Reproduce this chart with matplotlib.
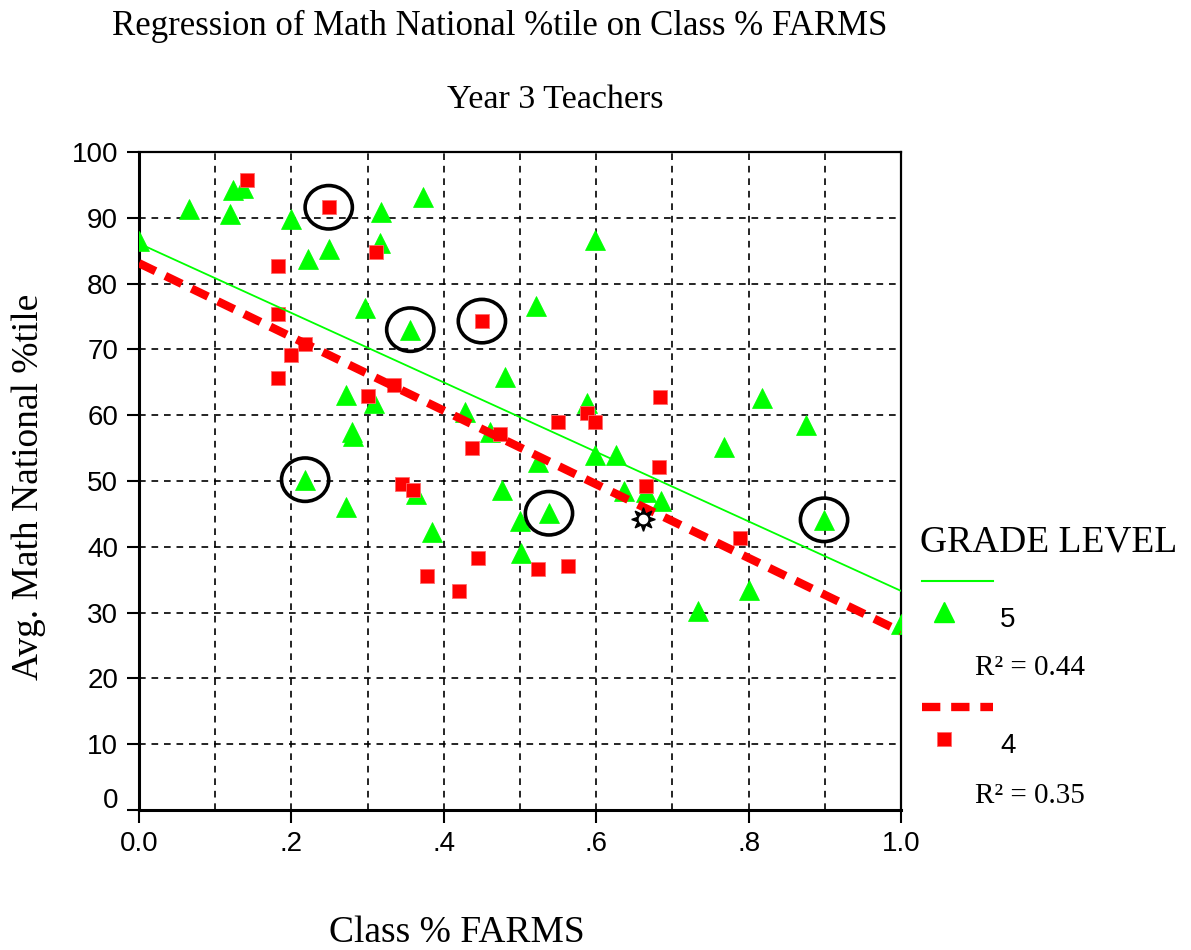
import numpy as np
import matplotlib
matplotlib.use("Agg")
import matplotlib.pyplot as plt
from matplotlib.patches import Ellipse
from matplotlib.transforms import ScaledTranslation

# ---------------- data ----------------
g5_x = [0.000, 0.066, 0.119, 0.123, 0.137, 0.200, 0.222, 0.249, 0.318, 0.316,
        0.373, 0.296, 0.356, 0.480, 0.599, 0.521, 0.271, 0.308, 0.280, 0.281,
        0.218, 0.271, 0.363, 0.385, 0.428, 0.461, 0.476, 0.500, 0.501, 0.588,
        0.523, 0.538, 0.599, 0.626, 0.637, 0.665, 0.685, 0.817, 0.875, 0.768,
        0.899, 0.800, 0.733, 1.000]
g5_y = [86.4, 91.3, 90.6, 94.2, 94.6, 89.8, 83.8, 85.2, 90.9, 86.2,
        93.1, 76.3, 73.0, 65.8, 86.7, 76.6, 63.1, 61.9, 57.5, 56.8,
        50.2, 46.0, 48.0, 42.2, 60.5, 57.5, 48.6, 43.9, 39.1, 61.8,
        52.9, 45.1, 53.9, 53.9, 48.5, 48.4, 46.9, 62.6, 58.5, 55.2,
        44.1, 33.4, 30.2, 28.3]

g4_x = [0.142, 0.249, 0.311, 0.182, 0.450, 0.182, 0.218, 0.200, 0.182, 0.334,
        0.301, 0.437, 0.474, 0.345, 0.360, 0.445, 0.378, 0.420, 0.684, 0.550,
        0.588, 0.599, 0.682, 0.666, 0.523, 0.563, 0.789]
g4_y = [95.7, 91.6, 84.8, 82.6, 74.3, 75.4, 70.8, 69.1, 65.7, 64.6,
        62.9, 55.0, 57.2, 49.5, 48.6, 38.3, 35.6, 33.3, 62.7, 58.9,
        60.4, 59.0, 52.1, 49.2, 36.6, 37.1, 41.3]

# regression fits: (intercept, slope)
g5_fit = (86.1, -52.8)
g4_fit = (83.1, -56.0)
r2_g5 = 0.44
r2_g4 = 0.35

# highlighted (circled) points
circ_x = [0.249, 0.356, 0.450, 0.218, 0.538, 0.899]
circ_y = [91.6, 73.0, 74.3, 50.2, 45.1, 44.1]

# special star point
star_x = [0.661]
star_y = [44.2]

x_ticks = [0.0, 0.2, 0.4, 0.6, 0.8, 1.0]
x_ticklabels = ["0.0", ".2", ".4", ".6", ".8", "1.0"]
y_ticks = [0, 10, 20, 30, 40, 50, 60, 70, 80, 90, 100]

title = "Regression of Math National %tile on Class % FARMS"
subtitle = "Year 3 Teachers"
xlabel = "Class % FARMS"
ylabel = "Avg. Math National %tile"
legend_title = "GRADE LEVEL"
grade_labels = ["5", "4"]

GREEN = "#00ff00"
RED = "#ff0000"
SERIF = "Liberation Serif"
SANS = "Liberation Sans"

W, H = 1191, 950
fig = plt.figure(figsize=(W / 100, H / 100), dpi=100)
ax = fig.add_axes([139 / W, 1 - 810 / H, (901 - 139) / W, (810 - 152) / H])

ax.set_xlim(0, 1.0)
ax.set_ylim(0, 100)

# grid
for gx in np.arange(0.1, 1.0, 0.1):
    ax.axvline(gx, color="black", lw=1.2, ls=(0, (4, 3.5)), zorder=1)
for gy in y_ticks[1:-1]:
    ax.axhline(gy, color="black", lw=1.2, ls=(0, (4, 3.5)), zorder=1)

# points
ax.plot(g5_x, g5_y, ls="none", marker="^", ms=14, mfc=GREEN, mec=GREEN, mew=0.5, zorder=3)
ax.plot(g4_x, g4_y, ls="none", marker="s", ms=10.5, mfc=RED, mec="#ff6a6a", mew=0.6, zorder=3)

# regression lines
xx = np.array([0.0, 1.0])
ax.plot(xx, g5_fit[0] + g5_fit[1] * xx, color=GREEN, lw=1.3, zorder=4)
ax.plot(xx, g4_fit[0] + g4_fit[1] * xx, color=RED, lw=6, ls=(0, (2.2, 1.3)),
        dash_capstyle="butt", zorder=4)

# circles
for cx, cy in zip(circ_x, circ_y):
    ax.add_patch(Ellipse((cx, cy), width=0.062, height=6.6, fill=False,
                         ec="black", lw=2.6, zorder=5))

# star
ax.plot(star_x, star_y, ls="none", marker=(8, 1, 0), ms=17, mfc="black", mec="black", zorder=6)
ax.plot(star_x, star_y, ls="none", marker="o", ms=6, mfc="white", mec="white", zorder=7)

ax.set_xticks(x_ticks)
ax.set_xticklabels(x_ticklabels)
ax.set_yticks(y_ticks)
ax.tick_params(direction="out", length=9, width=1.5, labelsize=20, colors="black")
ax.tick_params(axis="y", pad=6)
ax.tick_params(axis="x", pad=6)
for lab in ax.get_xticklabels() + ax.get_yticklabels():
    lab.set_fontfamily(SANS)
# bottom y label sits slightly above the axis line
ylab0 = ax.get_yticklabels()[0]
ylab0.set_transform(ylab0.get_transform() + ScaledTranslation(0, 0.12, fig.dpi_scale_trans))
for s in ax.spines.values():
    s.set_linewidth(1.6)
ax.spines["left"].set_linewidth(2.2)
ax.spines["bottom"].set_linewidth(2.2)

# texts
fig.text(500 / W, 1 - 26 / H, title, family=SERIF, fontsize=25, ha="center", va="center")
fig.text(555 / W, 1 - 100 / H, subtitle, family=SERIF, fontsize=24.5, ha="center", va="center")
fig.text(457 / W, 1 - 933 / H, xlabel, family=SERIF, fontsize=27, ha="center", va="center")
fig.text(29 / W, 1 - 487 / H, ylabel, family=SERIF, fontsize=27, ha="center", va="center",
         rotation=90)

# legend (drawn in pixel space overlay)
lax = fig.add_axes([0, 0, 1, 1], facecolor="none")
lax.set_xlim(0, W)
lax.set_ylim(H, 0)
lax.axis("off")
lax.text(920, 542, legend_title, family=SERIF, fontsize=27, ha="left", va="center")
lax.plot([922, 993], [581, 581], color=GREEN, lw=1.5)
lax.plot([944], [612], ls="none", marker="^", ms=14, mfc=GREEN, mec=GREEN)
lax.text(1000, 620, grade_labels[0], family=SANS, fontsize=20, ha="left", va="center")
lax.text(975, 668, f"R\u00b2 = {r2_g5:.2f}", family=SERIF, fontsize=21, ha="left", va="center")
lax.plot([922, 993], [707, 707], color=RED, lw=6, ls=(0, (2.2, 1.3)), dash_capstyle="butt")
lax.plot([944], [739], ls="none", marker="s", ms=10.5, mfc=RED, mec="#ff6a6a", mew=0.6)
lax.text(1000, 746, grade_labels[1], family=SANS, fontsize=20, ha="left", va="center")
lax.text(975, 796, f"R\u00b2 = {r2_g4:.2f}", family=SERIF, fontsize=21, ha="left", va="center")

fig.savefig("out.png", dpi=100)
